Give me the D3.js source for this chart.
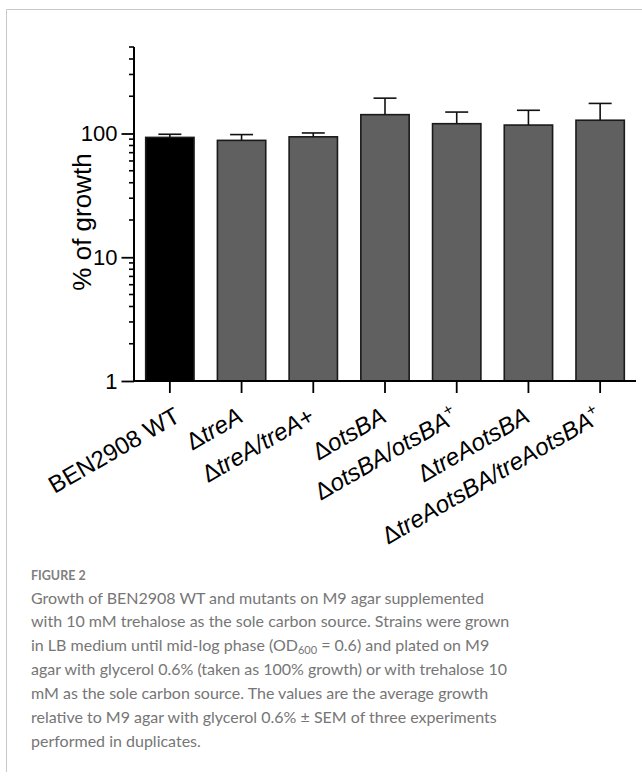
<!DOCTYPE html>
<html>
<head>
<meta charset="utf-8">
<script src="https://cdn.jsdelivr.net/npm/d3@7"></script>
<style>
  body { margin: 0; background: #fff; }
  svg { display: block; }
</style>
</head>
<body>
<div id="chart"></div>
<script>
// strains, each label split into pieces: [text, italic, superscript]
var strains = ["WT", "treA", "treAc", "otsBA", "otsBAc", "treAotsBA", "treAotsBAc"];
var strainLabels = [
  [["BEN2908 WT", 0, 0]],
  [["\u0394", 0, 0], ["treA", 1, 0]],
  [["\u0394", 0, 0], ["treA/treA", 1, 0], ["+", 0, 0]],
  [["\u0394", 0, 0], ["otsBA", 1, 0]],
  [["\u0394", 0, 0], ["otsBA/otsBA", 1, 0], ["+", 0, 1]],
  [["\u0394", 0, 0], ["treAotsBA", 1, 0]],
  [["\u0394", 0, 0], ["treAotsBA/treAotsBA", 1, 0], ["+", 0, 1]]
];
var growth = [93, 88, 94, 142, 120, 117, 128];
var sem = [5.6, 10, 7, 51, 29, 37, 47];
var yTicks = [1, 10, 100];
var yMinorTicks = [2, 3, 4, 5, 6, 7, 8, 9, 20, 30, 40, 50, 60, 70, 80, 90, 200, 300, 400, 500];

var captionTitle = "FIGURE 2";
var captionLines = [
  "Growth of BEN2908 WT and mutants on M9 agar supplemented",
  "with 10 mM trehalose as the sole carbon source. Strains were grown",
  "in LB medium until mid-log phase (OD|600| = 0.6) and plated on M9",
  "agar with glycerol 0.6% (taken as 100% growth) or with trehalose 10",
  "mM as the sole carbon source. The values are the average growth",
  "relative to M9 agar with glycerol 0.6% \u00b1 SEM of three experiments",
  "performed in duplicates."
];

var W = 642, H = 776;
var svg = d3.select("#chart").append("svg")
  .attr("width", W)
  .attr("height", H);

// frame lines (top and left only)
svg.append("line").attr("x1", 6.5).attr("x2", W).attr("y1", 9.5).attr("y2", 9.5)
  .attr("stroke", "#c8c8c8").attr("stroke-width", 1);
svg.append("line").attr("x1", 6.5).attr("x2", 6.5).attr("y1", 9.5).attr("y2", 772)
  .attr("stroke", "#c8c8c8").attr("stroke-width", 1);

var x0 = 134, x1 = 636, yBase = 381, yTop = 47;

var x = d3.scaleBand()
  .domain(strains)
  .range([x0, x1])
  .paddingInner(0.326)
  .paddingOuter(0.163);

var y = d3.scaleLog()
  .domain([1, 500])
  .range([yBase, yTop]);

var font = "'Liberation Sans', Arial, sans-serif";

// bars
svg.append("g").selectAll("rect")
  .data(growth)
  .enter().append("rect")
  .attr("x", function(d, i) { return x(strains[i]); })
  .attr("y", function(d) { return y(d); })
  .attr("width", x.bandwidth())
  .attr("height", function(d) { return y(1) - y(d); })
  .attr("fill", function(d, i) { return i === 0 ? "#000" : "#606060"; })
  .attr("stroke", "#1a1a1a")
  .attr("stroke-width", 1.6);

// error bars (upper only)
var err = svg.append("g").attr("stroke", "#111").attr("stroke-width", 1.6);
growth.forEach(function(d, i) {
  var cx = x(strains[i]) + x.bandwidth() / 2;
  err.append("line")
    .attr("x1", cx).attr("x2", cx)
    .attr("y1", y(d)).attr("y2", y(d + sem[i]));
  err.append("line")
    .attr("x1", cx - 11.5).attr("x2", cx + 11.5)
    .attr("y1", y(d + sem[i])).attr("y2", y(d + sem[i]));
});

// y axis
var yAxis = d3.axisLeft(y)
  .tickValues(yTicks)
  .tickSize(12.5)
  .tickPadding(4)
  .tickFormat(d3.format("d"));

var gy = svg.append("g")
  .attr("transform", "translate(" + x0 + ",0)")
  .call(yAxis);
gy.select(".domain").attr("stroke-width", 2).attr("d", "M0," + yTop + "V" + yBase);
gy.selectAll(".tick line").attr("stroke-width", 1.8);
gy.selectAll(".tick text")
  .attr("font-family", font)
  .attr("font-size", 22)
  .attr("fill", "#000");

gy.selectAll(".minor")
  .data(yMinorTicks)
  .enter().append("line")
  .attr("class", "minor")
  .attr("x1", -5).attr("x2", 0)
  .attr("y1", function(d) { return y(d); })
  .attr("y2", function(d) { return y(d); })
  .attr("stroke", "#000")
  .attr("stroke-width", 1.6);

// x axis
var xAxis = d3.axisBottom(x).tickSize(12).tickFormat("");
var gx = svg.append("g")
  .attr("transform", "translate(0," + yBase + ")")
  .call(xAxis);
gx.select(".domain").attr("stroke-width", 2).attr("d", "M" + x0 + ",0H" + x1);
gx.selectAll(".tick line").attr("stroke-width", 1.8);

// rotated category labels (italic ones sit a bit further left)
var labels = svg.append("g");
strains.forEach(function(s, i) {
  var cx = x(s) + x.bandwidth() / 2;
  var shift = i === 0 ? 1 : -8;
  var t = labels.append("text")
    .attr("transform", "translate(" + (cx + shift) + ",402) rotate(-30)")
    .attr("text-anchor", "end")
    .attr("dy", "0.9em")
    .attr("font-family", font)
    .attr("font-size", 24)
    .attr("fill", "#000");
  strainLabels[i].forEach(function(p) {
    var ts = t.append("tspan")
      .text(p[0])
      .attr("font-style", p[1] ? "italic" : "normal");
    if (p[2]) ts.attr("font-size", 16).attr("baseline-shift", "60%");
  });
});

// y axis title
svg.append("text")
  .attr("transform", "translate(91,222) rotate(-90)")
  .attr("text-anchor", "middle")
  .attr("font-family", font)
  .attr("font-size", 26)
  .attr("fill", "#000")
  .text("% of growth");

// caption
svg.append("text")
  .attr("x", 31)
  .attr("y", 580)
  .attr("font-family", "Lato, 'Open Sans', sans-serif")
  .attr("font-weight", 700)
  .attr("font-size", 12.5)
  .attr("fill", "#808080")
  .text(captionTitle);

captionLines.forEach(function(line, i) {
  var t = svg.append("text")
    .attr("x", 31)
    .attr("y", 603.5 + i * 23.9)
    .attr("font-family", "Lato, 'Open Sans', sans-serif")
    .attr("font-size", 16)
    .attr("fill", "#767676");
  line.split("|").forEach(function(part, j) {
    var ts = t.append("tspan").text(part);
    if (j === 1) ts.attr("font-size", 11).attr("dy", 3);
    if (j === 2) ts.attr("dy", -3);
  });
});
</script>
</body>
</html>
